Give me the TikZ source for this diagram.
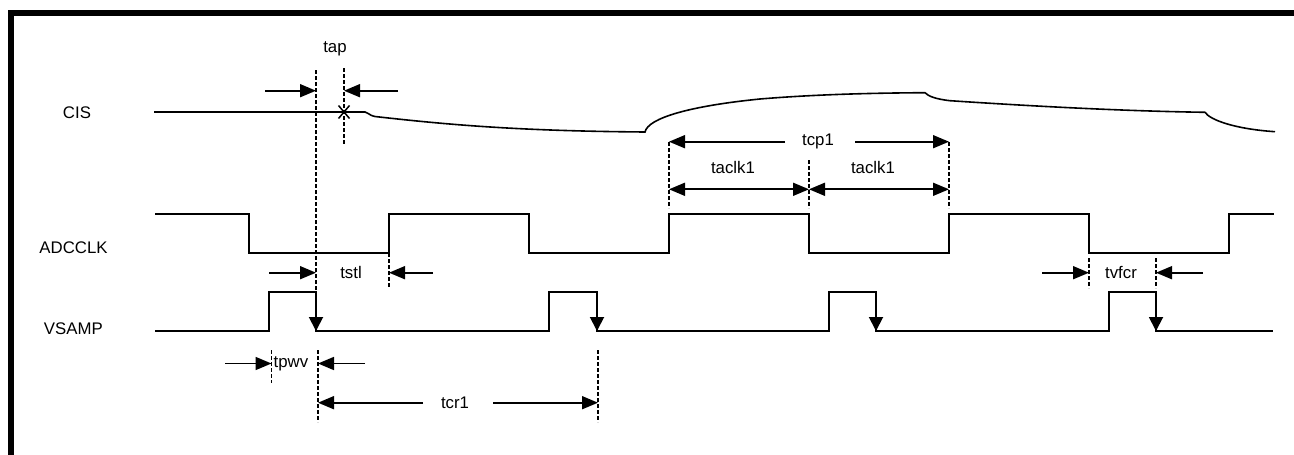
\documentclass[tikz,border=0pt]{standalone}
\usepackage{fontspec}
\setmainfont{Liberation Sans}
\usetikzlibrary{arrows.meta}
\begin{document}
\begin{tikzpicture}[x=1pt,y=-1pt,
  sig/.style={line width=1.9pt, line join=miter},
  wave/.style={line width=1.6pt},
  guide/.style={line width=1.4pt, dash pattern=on 4pt off 2pt},
  dimarrow/.style={line width=1.7pt, -{Triangle[length=16pt,width=13pt]}},
  dimboth/.style={line width=1.7pt, {Triangle[length=16pt,width=13pt]}-{Triangle[length=16pt,width=13pt]}},
  fallarrow/.style={line width=1.9pt, -{Triangle[length=14pt,width=14pt]}},
  lbl/.style={inner sep=0pt, font=\fontsize{16.8}{20}\selectfont},
]
\useasboundingbox (0,0) rectangle (1294,455);
% frame (top and left borders)
\fill (8,10) rectangle (1294,16);
\fill (8,10) rectangle (14,455);

% signal names
\node[lbl] (cis) at (77,112.5) {CIS};
\node[lbl] (adc) at (73.5,247.7) {ADCCLK};
\node[lbl] (vsamp) at (73.3,328.7) {VSAMP};

% CIS waveform
\draw[wave] (154,112) -- (365,112)
  .. controls (368,112) and (368,115) .. (375,116.5)
  .. controls (450,125) and (520,131) .. (645,132)
  .. controls (648,118) and (690,106) .. (760,99)
  .. controls (820,94) and (880,93) .. (925,92.7)
  .. controls (928,96) and (935,99) .. (950,100.7)
  .. controls (1030,106) and (1120,111) .. (1205,112.3)
  .. controls (1210,120) and (1235,129) .. (1275,131.7);
% X marker
\draw[line width=1.5pt] (338.5,105.5) -- (349.5,118.5) (338.5,118.5) -- (349.5,105.5);

% ADCCLK
\draw[sig] (155,214) -- (249,214) -- (249,253) -- (389,253) -- (389,214) -- (529,214)
  -- (529,253) -- (669,253) -- (669,214) -- (809,214) -- (809,253) -- (949,253)
  -- (949,214) -- (1089,214) -- (1089,253) -- (1229,253) -- (1229,214) -- (1274,214);

% VSAMP
\draw[sig] (155,331) -- (269,331) -- (269,292) -- (316,292) -- (316,331) -- (549,331)
  -- (549,292) -- (597,292) -- (597,331) -- (829,331) -- (829,292) -- (876,292)
  -- (876,331) -- (1109,331) -- (1109,292) -- (1156,292) -- (1156,331) -- (1273,331);
\coordinate (f1a) at (316,292); \coordinate (f1b) at (316,331);
\coordinate (f2a) at (597,292); \coordinate (f2b) at (597,331);
\coordinate (f3a) at (876,292); \coordinate (f3b) at (876,331);
\coordinate (f4a) at (1156,292); \coordinate (f4b) at (1156,331);
\draw[fallarrow] (f1a) -- (f1b);
\draw[fallarrow] (f2a) -- (f2b);
\draw[fallarrow] (f3a) -- (f3b);
\draw[fallarrow] (f4a) -- (f4b);

% guide lines
\coordinate (g1a) at (316,70);   \coordinate (g1b) at (316,292);
\coordinate (g2a) at (344,68);   \coordinate (g2b) at (344,145);
\coordinate (g3a) at (389,253);  \coordinate (g3b) at (389,287);
\coordinate (g4a) at (271.5,350);\coordinate (g4b) at (271.5,383);
\coordinate (g5a) at (318,350);  \coordinate (g5b) at (318,422);
\coordinate (g6a) at (598,350);  \coordinate (g6b) at (598,422);
\coordinate (g7a) at (669,142);  \coordinate (g7b) at (669,208);
\coordinate (g8a) at (809,160);  \coordinate (g8b) at (809,208);
\coordinate (g9a) at (949,142);  \coordinate (g9b) at (949,208);
\coordinate (g10a) at (1089,258);\coordinate (g10b) at (1089,288);
\coordinate (g11a) at (1156,258);\coordinate (g11b) at (1156,288);
\foreach \g in {1,...,11} \draw[guide] (g\g a) -- (g\g b);

% tap
\node[lbl] (tap) at (335,49) {tap};
\coordinate (tapL) at (265,90.7); \coordinate (tapLe) at (316,90.7);
\coordinate (tapR) at (398,90.7); \coordinate (tapRe) at (344,90.7);
\draw[dimarrow] (tapL) -- (tapLe);
\draw[dimarrow] (tapR) -- (tapRe);

% tstl
\node[lbl] (tstl) at (351,272.7) {tstl};
\coordinate (tstlL) at (269,272.7); \coordinate (tstlLe) at (316,272.7);
\coordinate (tstlR) at (433,272.7); \coordinate (tstlRe) at (389,272.7);
\draw[dimarrow] (tstlL) -- (tstlLe);
\draw[dimarrow] (tstlR) -- (tstlRe);

% tpwv
\node[lbl] (tpwv) at (291,363.5) {tpwv};
\coordinate (tpwvL) at (225,363.5); \coordinate (tpwvLe) at (271.5,363.5);
\coordinate (tpwvR) at (365,363.5); \coordinate (tpwvRe) at (318,363.5);
\draw[dimarrow] (tpwvL) -- (tpwvLe);
\draw[dimarrow] (tpwvR) -- (tpwvRe);

% tcr1
\node[lbl] (tcr) at (455,402.7) {tcr1};
\coordinate (tcrL) at (423,402.7); \coordinate (tcrLe) at (318,402.7);
\coordinate (tcrR) at (493,402.7); \coordinate (tcrRe) at (598,402.7);
\draw[dimarrow] (tcrL) -- (tcrLe);
\draw[dimarrow] (tcrR) -- (tcrRe);

% tcp1
\node[lbl] (tcp) at (818,141.7) {tcp1};
\coordinate (tcpL) at (785,141.7); \coordinate (tcpLe) at (669,141.7);
\coordinate (tcpR) at (855,141.7); \coordinate (tcpRe) at (949,141.7);
\draw[dimarrow] (tcpL) -- (tcpLe);
\draw[dimarrow] (tcpR) -- (tcpRe);

% taclk1
\node[lbl] (taclkA) at (733,167) {taclk1};
\node[lbl] (taclkB) at (873,167) {taclk1};
\coordinate (ta1) at (669,189.3); \coordinate (ta2) at (809,189.3); \coordinate (ta3) at (949,189.3);
\draw[dimboth] (ta1) -- (ta2);
\draw[dimboth] (ta2) -- (ta3);

% tvfcr
\node[lbl] (tvfcr) at (1121,272.7) {tvfcr};
\coordinate (tvL) at (1042,272.7); \coordinate (tvLe) at (1089,272.7);
\coordinate (tvR) at (1203,272.7); \coordinate (tvRe) at (1156,272.7);
\draw[dimarrow] (tvL) -- (tvLe);
\draw[dimarrow] (tvR) -- (tvRe);
\end{tikzpicture}
\end{document}
